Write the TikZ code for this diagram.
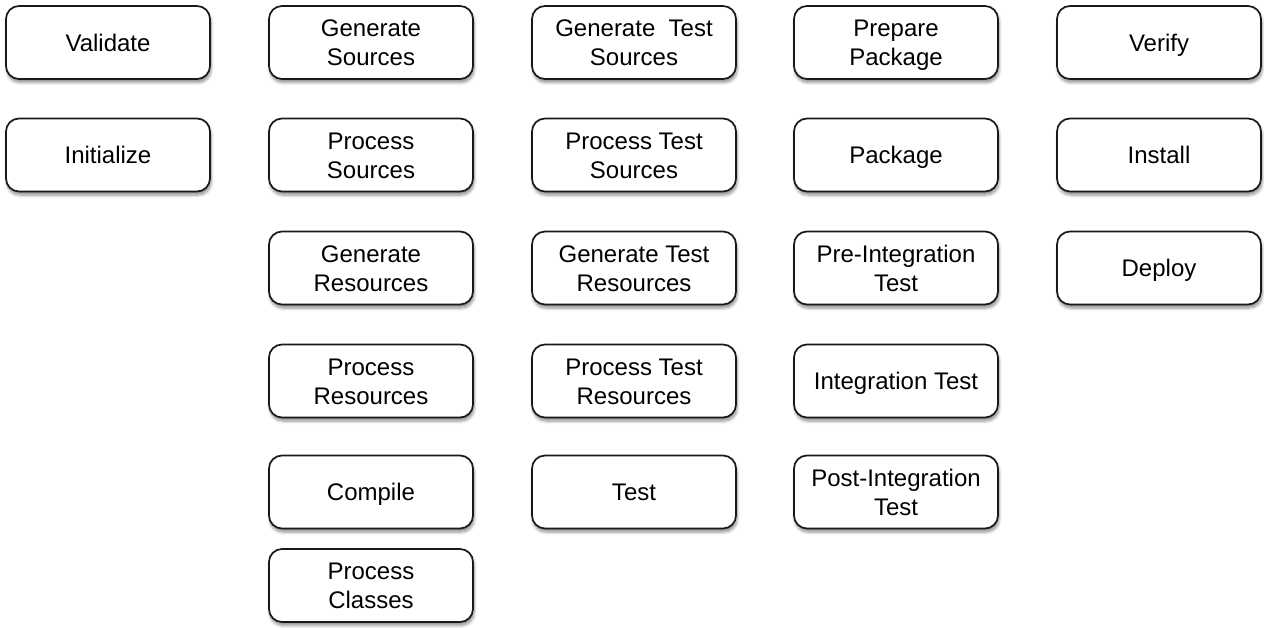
\documentclass[tikz,border=0pt]{standalone}
\usepackage{fontspec}
\setmainfont{Liberation Sans}
\usetikzlibrary{shadows.blur}
\begin{document}
\begin{tikzpicture}[x=1pt,y=1pt,
  phase/.style={draw=black!90, line width=1.7pt, rounded corners=13pt, fill=white,
    minimum width=204pt, minimum height=73pt, align=center, inner sep=2pt,
    font=\fontsize{24}{29}\selectfont,
    text height=23.1pt, text depth=5.9pt,
    blur shadow={shadow xshift=1pt, shadow yshift=-3.5pt, shadow blur radius=3pt, shadow blur steps=6, shadow opacity=45}},
  twoline/.style={text height=52.1pt, text depth=5.9pt}]
\useasboundingbox (0,0) rectangle (1264,-627);
% column x centres: 108, 371, 634, 896, 1159
% row y centres: 42.5, 155, 268, 381, 492, 585.5
\node[phase] (validate) at (108,-42.5) {Validate};
\node[phase] (initialize) at (108,-155) {Initialize};

\node[phase,twoline] (gensrc) at (371,-42.5) {Generate\\Sources};
\node[phase,twoline] (procsrc) at (371,-155) {Process\\Sources};
\node[phase,twoline] (genres) at (371,-268) {Generate\\Resources};
\node[phase,twoline] (procres) at (371,-381) {Process\\Resources};
\node[phase] (compile) at (371,-492) {Compile};
\node[phase,twoline] (proccls) at (371,-585.5) {Process\\Classes};

\node[phase,twoline] (gentsrc) at (634,-42.5) {Generate\ \ Test\\Sources};
\node[phase,twoline] (proctsrc) at (634,-155) {Process Test\\Sources};
\node[phase,twoline] (gentres) at (634,-268) {Generate Test\\Resources};
\node[phase,twoline] (proctres) at (634,-381) {Process Test\\Resources};
\node[phase] (test) at (634,-492) {Test};

\node[phase,twoline] (prepkg) at (896,-42.5) {Prepare\\Package};
\node[phase] (package) at (896,-155) {Package};
\node[phase,twoline] (preint) at (896,-268) {Pre-Integration\\Test};
\node[phase] (inttest) at (896,-381) {Integration Test};
\node[phase,twoline] (postint) at (896,-492) {Post-Integration\\Test};

\node[phase] (verify) at (1159,-42.5) {Verify};
\node[phase] (install) at (1159,-155) {Install};
\node[phase] (deploy) at (1159,-268) {Deploy};
\end{tikzpicture}
\end{document}
